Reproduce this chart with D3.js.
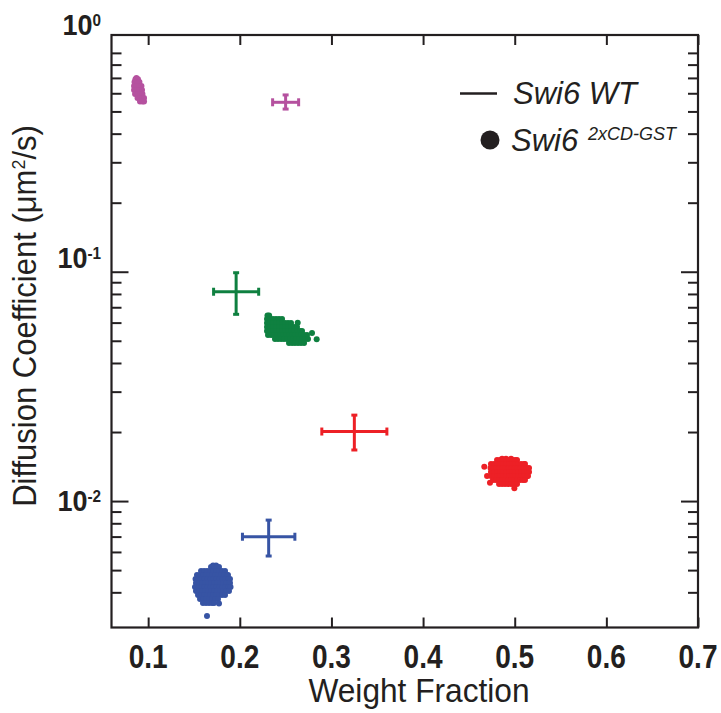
<!DOCTYPE html>
<html>
<head>
<meta charset="utf-8">
<script src="https://cdn.jsdelivr.net/npm/d3@7"></script>
<style>
  html, body { margin: 0; padding: 0; background: #fff; }
  svg { display: block; }
</style>
</head>
<body>
<svg id="chart" width="721" height="713"></svg>
<script>
// ---------- data ----------
const xTickValues = [0.1, 0.2, 0.3, 0.4, 0.5, 0.6, 0.7];
const xTickLabels = ["0.1", "0.2", "0.3", "0.4", "0.5", "0.6", "0.7"];
const yMajorValues = [1, 0.1, 0.01];
const yMajorExponents = ["0", "-1", "-2"];
const yMinorValues = [0.9, 0.8, 0.7, 0.6, 0.5, 0.4, 0.3, 0.2,
                      0.09, 0.08, 0.07, 0.06, 0.05, 0.04, 0.03, 0.02,
                      0.009, 0.008, 0.007, 0.006, 0.005, 0.004];

// Swi6 WT: mean weight fraction ± error, mean diffusion coefficient with low/high bounds
const groups = ["magenta", "green", "red", "blue"];
const wtWeight = [0.250, 0.196, 0.325, 0.2315];
const wtWeightErr = [0.0142, 0.0246, 0.0355, 0.0286];
const wtDiff = [0.548, 0.0818, 0.0201, 0.00699];
const wtDiffLow = [0.512, 0.0652, 0.0167, 0.00576];
const wtDiffHigh = [0.590, 0.0990, 0.0237, 0.00826];

// Swi6 2xCD-GST single measurements, listed as [diffusion, [weight fractions...]]
const cloudMagenta = [
  [0.700, [0.0872]],
  [0.690, [0.0861, 0.0889]],
  [0.672, [0.0851, 0.0878, 0.0905]],
  [0.6455, [0.0846, 0.0873, 0.0900, 0.0927]],
  [0.620, [0.0846, 0.0873, 0.0900, 0.0933]],
  [0.5957, [0.0857, 0.0884, 0.0911, 0.0938]],
  [0.5723, [0.0884, 0.0911, 0.0938, 0.0955]],
  [0.5524, [0.0911, 0.0938, 0.0955]]
];
const cloudGreen = [
  [0.0644, [0.2302, 0.2320]],
  [0.0622, [0.2297, 0.2330, 0.2362, 0.2395, 0.2428, 0.2461]],
  [0.05975, [0.2297, 0.2330, 0.2362, 0.2395, 0.2428, 0.2461, 0.2493, 0.2526, 0.2559]],
  [0.05993, [0.2632]],
  [0.05739, [0.2297, 0.2330, 0.2362, 0.2395, 0.2428, 0.2461, 0.2493, 0.2526, 0.2559, 0.2591, 0.2624]],
  [0.05513, [0.2297, 0.2330, 0.2362, 0.2395, 0.2428, 0.2461, 0.2493, 0.2526, 0.2559, 0.2591, 0.2624, 0.2657, 0.2679]],
  [0.05403, [0.2788]],
  [0.05295, [0.2308, 0.2341, 0.2373, 0.2406, 0.2439, 0.2472, 0.2504, 0.2537, 0.2570, 0.2602, 0.2635, 0.2668, 0.2701, 0.2733]],
  [0.05087, [0.2384, 0.2417, 0.2450, 0.2482, 0.2515, 0.2548, 0.2581, 0.2613, 0.2646, 0.2679, 0.2711, 0.2744]],
  [0.05072, [0.2839]],
  [0.04888, [0.2537, 0.2570, 0.2602, 0.2635, 0.2668, 0.2701]]
];
const cloudRed = [
  [0.01530, [0.4862, 0.4905, 0.4960]],
  [0.01510, [0.4807, 0.4840, 0.4873, 0.4905, 0.4938, 0.4971, 0.5003, 0.5025]],
  [0.01450, [0.4741, 0.4774, 0.4807, 0.4840, 0.4872, 0.4905, 0.4938, 0.4971, 0.5003, 0.5036, 0.5069, 0.5101, 0.5112]],
  [0.01411, [0.4668]],
  [0.01393, [0.4736, 0.4769, 0.4802, 0.4834, 0.4867, 0.4900, 0.4932, 0.4965, 0.4998, 0.5031, 0.5063, 0.5096, 0.5129, 0.5156]],
  [0.01338, [0.4741, 0.4774, 0.4807, 0.4840, 0.4872, 0.4905, 0.4938, 0.4971, 0.5003, 0.5036, 0.5069, 0.5101, 0.5134, 0.5156]],
  [0.01285, [0.4698, 0.4741, 0.4774, 0.4807, 0.4840, 0.4872, 0.4905, 0.4938, 0.4971, 0.5003, 0.5036, 0.5069, 0.5101, 0.5134, 0.5145]],
  [0.01235, [0.4763, 0.4796, 0.4829, 0.4861, 0.4894, 0.4927, 0.4960, 0.4992, 0.5025, 0.5058, 0.5090, 0.5112]],
  [0.01202, [0.4730]],
  [0.01186, [0.4829, 0.4862, 0.4894, 0.4927, 0.4960, 0.4992, 0.5025]],
  [0.01136, [0.4996]]
];
const cloudBlue = [
  [0.005240, [0.1708, 0.1741]],
  [0.005155, [0.1686, 0.1719, 0.1751, 0.1773]],
  [0.004951, [0.1577, 0.1610, 0.1642, 0.1675, 0.1708, 0.1741, 0.1773, 0.1806, 0.1839]],
  [0.004757, [0.1533, 0.1566, 0.1599, 0.1631, 0.1664, 0.1697, 0.1730, 0.1762, 0.1795, 0.1828, 0.1860, 0.1871]],
  [0.004569, [0.1517, 0.1550, 0.1583, 0.1615, 0.1648, 0.1681, 0.1713, 0.1746, 0.1779, 0.1812, 0.1844, 0.1877, 0.1893]],
  [0.004390, [0.1522, 0.1555, 0.1588, 0.1620, 0.1653, 0.1686, 0.1719, 0.1751, 0.1784, 0.1817, 0.1850, 0.1882, 0.1893]],
  [0.004216, [0.1511, 0.1550, 0.1583, 0.1615, 0.1648, 0.1681, 0.1713, 0.1746, 0.1779, 0.1812, 0.1844, 0.1877, 0.1899]],
  [0.004051, [0.1522, 0.1555, 0.1588, 0.1620, 0.1653, 0.1686, 0.1719, 0.1751, 0.1784, 0.1817, 0.1850, 0.1882]],
  [0.003890, [0.1544, 0.1577, 0.1610, 0.1642, 0.1675, 0.1708, 0.1740, 0.1773, 0.1806, 0.1839]],
  [0.003738, [0.1566, 0.1599, 0.1631, 0.1664, 0.1697, 0.1730, 0.1762]],
  [0.003590, [0.1598, 0.1631, 0.1664, 0.1697, 0.1719]],
  [0.003573, [0.1773]],
  [0.003151, [0.1642]]
];
const clouds = [cloudMagenta, cloudGreen, cloudRed, cloudBlue];

const legendLabels = ["Swi6 WT", "Swi6", "2xCD-GST"];
const xTitle = "Weight Fraction";

// ---------- styles ----------
const groupColors = ["#b5519f", "#0f8040", "#ed2026", "#3754a4"];
const ink = "#231f20";
const fontFamily = "'Liberation Sans', Arial, Helvetica, sans-serif";

// ---------- layout ----------
const svg = d3.select("#chart");
const plot = { left: 111.5, right: 698, top: 35, bottom: 627.5 };

const x = d3.scaleLinear().domain([0.06, 0.7]).range([plot.left, plot.right]);
const y = d3.scaleLog().domain([0.00281, 1.077]).range([plot.bottom, plot.top]);

svg.append("rect").attr("width", 721).attr("height", 713).attr("fill", "#fff");

// ---------- tick marks (inward on all four sides) ----------
function styleAxis(g) {
  g.select(".domain").remove();
  g.selectAll(".tick line").attr("stroke", ink).attr("stroke-width", 2);
  g.selectAll(".tick text").remove();
}
svg.append("g").attr("transform", `translate(0,${plot.bottom})`)
  .call(d3.axisBottom(x).tickValues(xTickValues).tickSize(-10)).call(styleAxis);
svg.append("g").attr("transform", `translate(0,${plot.top})`)
  .call(d3.axisTop(x).tickValues(xTickValues).tickSize(-10)).call(styleAxis);
svg.append("g").attr("transform", `translate(${plot.left},0)`)
  .call(d3.axisLeft(y).tickValues(yMinorValues).tickSize(-10)).call(styleAxis);
svg.append("g").attr("transform", `translate(${plot.left},0)`)
  .call(d3.axisLeft(y).tickValues(yMajorValues.slice(1)).tickSize(-17)).call(styleAxis);
svg.append("g").attr("transform", `translate(${plot.right},0)`)
  .call(d3.axisRight(y).tickValues(yMinorValues).tickSize(-10)).call(styleAxis);
svg.append("g").attr("transform", `translate(${plot.right},0)`)
  .call(d3.axisRight(y).tickValues(yMajorValues.slice(1)).tickSize(-17)).call(styleAxis);

// frame
svg.append("rect")
  .attr("x", plot.left).attr("y", plot.top)
  .attr("width", plot.right - plot.left).attr("height", plot.bottom - plot.top)
  .attr("fill", "none").attr("stroke", ink).attr("stroke-width", 2.2);

// ---------- tick labels (narrow bold face) ----------
svg.append("g").selectAll("text")
  .data(xTickValues)
  .join("text")
  .attr("transform", d => `translate(${x(d)},668) scale(0.85,1)`)
  .attr("text-anchor", "middle")
  .attr("font-family", fontFamily)
  .attr("font-weight", "bold")
  .attr("font-size", 33)
  .attr("fill", ink)
  .text((d, i) => xTickLabels[i]);

const yLabelNudge = [-7, -4, 10];
const yLab = svg.append("g").selectAll("text")
  .data(yMajorValues)
  .join("text")
  .attr("transform", (d, i) => `translate(101,${y(d) + yLabelNudge[i]}) scale(0.9,1)`)
  .attr("text-anchor", "end")
  .attr("font-family", fontFamily)
  .attr("font-weight", "bold")
  .attr("font-size", 30)
  .attr("fill", ink);
yLab.append("tspan").text("10");
yLab.append("tspan")
  .attr("dy", -9)
  .attr("font-size", 17)
  .text((d, i) => yMajorExponents[i]);

// ---------- axis titles ----------
svg.append("text")
  .attr("transform", "translate(419,702) scale(0.96,1)")
  .attr("text-anchor", "middle")
  .attr("font-family", fontFamily)
  .attr("font-size", 33)
  .attr("fill", ink)
  .text(xTitle);

const yTitle = svg.append("text")
  .attr("transform", "translate(36,316) rotate(-90) scale(0.94,1)")
  .attr("text-anchor", "middle")
  .attr("font-family", fontFamily)
  .attr("font-size", 33)
  .attr("fill", ink);
yTitle.append("tspan").text("Diffusion Coefficient (\u03bcm");
yTitle.append("tspan").attr("dy", -11).attr("font-size", 19).text("2");
yTitle.append("tspan").attr("dy", 11).text("/s)");

// ---------- 2xCD-GST point clouds ----------
clouds.forEach((rows, gi) => {
  const pts = rows.flatMap(([dv, ws]) => ws.map(w => ({ w, d: dv })));
  svg.append("g").selectAll("circle")
    .data(pts)
    .join("circle")
    .attr("cx", p => x(p.w))
    .attr("cy", p => y(p.d))
    .attr("r", 3)
    .attr("fill", groupColors[gi]);
});

// ---------- WT error crosses ----------
groups.forEach((g, i) => {
  const gg = svg.append("g")
    .attr("stroke", groupColors[i])
    .attr("stroke-width", 3)
    .attr("fill", "none");
  const cx = x(wtWeight[i]), cy = y(wtDiff[i]);
  const xl = x(wtWeight[i] - wtWeightErr[i]), xr = x(wtWeight[i] + wtWeightErr[i]);
  const yt = y(wtDiffHigh[i]), yb = y(wtDiffLow[i]);
  gg.append("line").attr("x1", xl).attr("x2", xr).attr("y1", cy).attr("y2", cy);
  gg.append("line").attr("x1", cx).attr("x2", cx).attr("y1", yt).attr("y2", yb);
  // caps
  gg.append("line").attr("x1", xl).attr("x2", xl).attr("y1", cy - 4).attr("y2", cy + 4);
  gg.append("line").attr("x1", xr).attr("x2", xr).attr("y1", cy - 4).attr("y2", cy + 4);
  gg.append("line").attr("x1", cx - 3).attr("x2", cx + 3).attr("y1", yt).attr("y2", yt);
  gg.append("line").attr("x1", cx - 3).attr("x2", cx + 3).attr("y1", yb).attr("y2", yb);
});

// ---------- legend ----------
const legend = svg.append("g");
legend.append("line")
  .attr("x1", 460).attr("x2", 497).attr("y1", 93.5).attr("y2", 93.5)
  .attr("stroke", ink).attr("stroke-width", 2.5);
legend.append("text")
  .attr("x", 513).attr("y", 103.5)
  .attr("font-family", fontFamily).attr("font-style", "italic")
  .attr("font-size", 31).attr("fill", ink)
  .text(legendLabels[0]);
legend.append("circle")
  .attr("cx", 490).attr("cy", 140).attr("r", 9.5).attr("fill", ink);
legend.append("text")
  .attr("x", 511).attr("y", 150.5)
  .attr("font-family", fontFamily).attr("font-style", "italic")
  .attr("font-size", 31).attr("fill", ink)
  .text(legendLabels[1]);
legend.append("text")
  .attr("x", 588).attr("y", 140)
  .attr("font-family", fontFamily).attr("font-style", "italic")
  .attr("font-size", 18).attr("fill", ink)
  .text(legendLabels[2]);
</script>
</body>
</html>
